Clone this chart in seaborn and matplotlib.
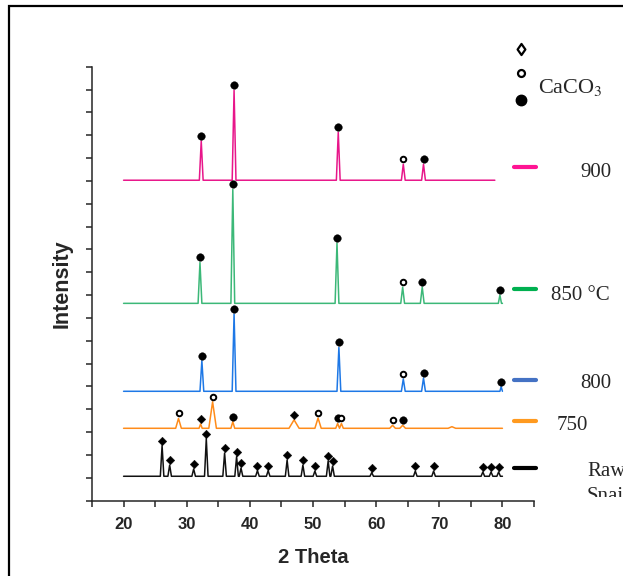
import numpy as np
import pandas as pd
import matplotlib
matplotlib.use("Agg")
import matplotlib.pyplot as plt
import seaborn as sns
from matplotlib import font_manager as fm
from matplotlib.patches import Rectangle
from matplotlib.path import Path
from matplotlib.transforms import Bbox

# ---------------- data ----------------
sample_names = ["Raw Snail", "750", "800", "850 °C", "900"]
baselines = [1.07, 3.17, 4.79, 8.64, 14.03]
line_ends = [80.0, 80.0, 80.0, 80.0, 78.8]

raw_pos = [26.1, 27.3, 31.1, 33.1, 36.0, 37.9, 38.6, 41.2, 42.9, 45.9,
           48.4, 50.3, 52.4, 53.1, 59.3, 66.2, 69.1, 76.9, 78.2, 79.4]
raw_top = [2.41, 1.56, 1.39, 2.72, 2.09, 1.93, 1.43, 1.32, 1.32, 1.78,
           1.56, 1.30, 1.74, 1.52, 1.23, 1.30, 1.30, 1.26, 1.26, 1.26]
raw_kind = ["diamond"] * 20
raw_hw = [0.28] * 20

s750_pos = [28.7, 32.2, 34.1, 37.3, 47.0, 50.8, 53.9, 54.5, 62.6, 64.2, 72.0]
s750_top = [3.60, 3.36, 4.33, 3.46, 3.54, 3.62, 3.38, 3.38, 3.30, 3.30, 3.24]
s750_kind = ["open", "diamond", "open", "filled", "diamond", "open",
             "filled", "open", "open", "filled", None]
s750_hw = [0.45, 0.25, 0.6, 0.30, 0.8, 0.5, 0.30, 0.30, 0.45, 0.45, 0.60]

s800_pos = [32.4, 37.5, 54.1, 64.3, 67.5, 79.8]
s800_top = [6.13, 8.17, 6.71, 5.33, 5.37, 4.99]
s800_kind = ["filled", "filled", "filled", "open", "filled", "filled"]
s800_hw = [0.3, 0.3, 0.3, 0.3, 0.3, 0.20]

s850_pos = [32.1, 37.3, 53.8, 64.2, 67.3, 79.6]
s850_top = [10.43, 13.63, 11.28, 9.35, 9.35, 9.00]
s850_kind = ["filled", "filled", "filled", "open", "filled", "filled"]
s850_hw = [0.3, 0.3, 0.3, 0.3, 0.3, 0.25]

s900_pos = [32.3, 37.5, 54.0, 64.3, 67.5]
s900_top = [15.75, 17.97, 16.13, 14.73, 14.73]
s900_kind = ["filled", "filled", "filled", "open", "filled"]
s900_hw = [0.3, 0.3, 0.3, 0.3, 0.3]

peak_pos = [raw_pos, s750_pos, s800_pos, s850_pos, s900_pos]
peak_top = [raw_top, s750_top, s800_top, s850_top, s900_top]
peak_kind = [raw_kind, s750_kind, s800_kind, s850_kind, s900_kind]
peak_hw = [raw_hw, s750_hw, s800_hw, s850_hw, s900_hw]

line_colors = ["#111111", "#FF8C1A", "#1E78E6", "#3CB878", "#E8168A"]
legend_colors = ["#000000", "#FF9A1F", "#4472C4", "#00B050", "#FF1493"]

x_major = [20, 30, 40, 50, 60, 70, 80]
x_minor = [15, 25, 35, 45, 55, 65, 75, 85]

# ---------------- build tables ----------------
rows = []
mrows = []
for name, base, end, pos, top, kind, hw in zip(sample_names, baselines, line_ends,
                                               peak_pos, peak_top, peak_kind, peak_hw):
    pts = [(20.0, base)]
    for p, t, k, w in zip(pos, top, kind, hw):
        pts += [(p - w, base), (p, t), (min(p + w, end), base)]
        if k is not None:
            mrows.append(dict(theta=p, y=t + 0.22, kind=k))
    pts.append((end, base))
    for o, (xv, yv) in enumerate(pts):
        rows.append(dict(sample=name, order=o, theta=xv, intensity=yv))
df = pd.DataFrame(rows)
dm = pd.DataFrame(mrows)

# ---------------- figure ----------------
sns.set_style("ticks")
names = {f.name for f in fm.fontManager.ttflist}
sans = "Liberation Sans Narrow" if "Liberation Sans Narrow" in names else "Liberation Sans"
plt.rcParams["font.family"] = [sans, "DejaVu Sans"]
plt.rcParams["mathtext.fontset"] = "stix"

W, H = 623, 576
fig = plt.figure(figsize=(W / 100, H / 100), dpi=100)
ax = fig.add_axes([92 / W, 1 - 500.7 / H, (534 - 92) / W, (500.7 - 66.7) / H])

sns.lineplot(data=df, x="theta", y="intensity", hue="sample", hue_order=sample_names,
             palette=line_colors, units="sample", estimator=None, sort=False,
             legend=False, linewidth=1.1, ax=ax)

sns.scatterplot(data=dm[dm.kind == "filled"], x="theta", y="y", marker="o", s=30,
                color="black", edgecolor="black", linewidth=0.3, ax=ax, zorder=5)
sns.scatterplot(data=dm[dm.kind == "open"], x="theta", y="y", marker="o", s=16,
                facecolor="white", edgecolor="black", linewidth=1.4, ax=ax, zorder=5)
sns.scatterplot(data=dm[dm.kind == "diamond"], x="theta", y="y", marker="D", s=19,
                color="black", edgecolor="black", linewidth=0.3, ax=ax, zorder=5)

ax.set_xlim(15, 85)
ax.set_ylim(0, 19)
ax.set_xticks(x_major)
ax.set_xticks(x_minor, minor=True)
ax.set_xticklabels([str(v) for v in x_major], fontsize=12, fontweight="bold")
ax.set_yticks(range(0, 20))
ax.set_yticklabels([])
ax.tick_params(axis="x", which="both", direction="out", length=4, width=1.1, pad=8)
ax.tick_params(axis="y", direction="out", length=4.5, width=1.1)
for s in ["top", "right"]:
    ax.spines[s].set_visible(False)
for s in ["left", "bottom"]:
    ax.spines[s].set_linewidth(1.1)
ax.set_xlabel("2 Theta", fontsize=14.5, fontweight="bold", labelpad=11)
ax.set_ylabel("Intensity", fontsize=15.5, fontweight="bold", labelpad=6)
ax.set_facecolor("white")


def fx(x):
    return x / W


def fy(y):
    return 1 - y / H


# figure frame
fig.patches.append(Rectangle((fx(8.5), -0.1), 1.2, fy(5.5) + 0.1, transform=fig.transFigure,
                             fill=False, edgecolor="black", linewidth=1.6))

# legend lines
leg_y = [468.3, 420.7, 380.0, 289.3, 166.7]
for c, yy in zip(legend_colors, leg_y):
    fig.add_artist(plt.Line2D([fx(514), fx(536)], [fy(yy), fy(yy)],
                              transform=fig.transFigure, color=c, linewidth=3))

serif = ["Liberation Serif", "DejaVu Serif"]
fig.text(fx(580), fy(383), "800", family=serif, fontsize=15, va="center", ha="left")
fig.text(fx(557), fy(426), "750", family=serif, fontsize=15, va="center", ha="left")
fig.text(fx(551), fy(295), "850 °C", family=serif, fontsize=15, va="center", ha="left")
fig.text(fx(580), fy(172.7), "900", family=serif, fontsize=15, va="center", ha="left")
fig.text(fx(538), fy(88), r"CaCO$_3$", family=serif, fontsize=16, va="center", ha="left")
t = fig.text(fx(587), fy(462), "Raw\nSnail", family=serif, fontsize=15, va="top", ha="left",
             linespacing=1.45)
t.set_clip_box(Bbox([[0, H - 497], [W, H]]))
t.set_clip_on(True)

# symbol legend (top right)
diam = Path([(0, 1), (0.7, 0), (0, -1), (-0.7, 0), (0, 1)],
            [Path.MOVETO, Path.LINETO, Path.LINETO, Path.LINETO, Path.CLOSEPOLY])
fig.add_artist(plt.Line2D([fx(520.7)], [fy(49)], transform=fig.transFigure, marker=diam,
                          markersize=8, markerfacecolor="white", markeredgecolor="black",
                          markeredgewidth=1.6, linestyle="none"))
fig.add_artist(plt.Line2D([fx(520.7)], [fy(72.7)], transform=fig.transFigure, marker="o",
                          markersize=5, markerfacecolor="white", markeredgecolor="black",
                          markeredgewidth=1.6, linestyle="none"))
fig.add_artist(plt.Line2D([fx(520.7)], [fy(100)], transform=fig.transFigure, marker="o",
                          markersize=7.5, markerfacecolor="black", markeredgecolor="black",
                          linestyle="none"))

fig.savefig("out.png", dpi=100, facecolor="white")
